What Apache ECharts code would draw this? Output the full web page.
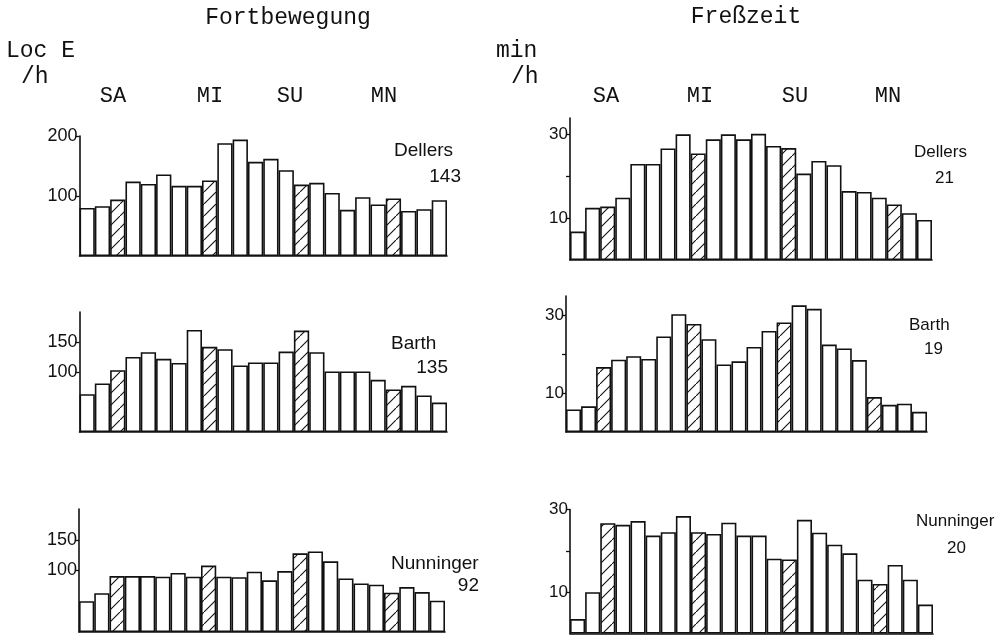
<!DOCTYPE html>
<html><head><meta charset="utf-8">
<script src="https://cdn.jsdelivr.net/npm/echarts@6/dist/echarts.min.js"></script>
<style>html,body{margin:0;padding:0;background:#fff}#c{width:1002px;height:637px}</style>
</head><body><div id="c"></div>
<script>
// ---- data ----
const hours = ['1','2','3','4','5','6','7','8','9','10','11','12','13','14','15','16','17','18','19','20','21','22','23','24'];
const timeLabels = ['SA','MI','SU','MN'];
const panelTitles = ['Fortbewegung','Freßzeit'];
const unitLoc = ['Loc E','/h'];
const unitFress = ['min','/h'];
const animals = ['Dellers','Barth','Nunninger'];
const locMeans = ['143','135','92'];
const fressMeans = ['21','19','20'];

const locDellers    = [80,83,94,124,120,136,117,117,126,188,194,157,162,143,119,122,105,77,98,86,96,75,78,93];
const locBarth      = [63,81,103,125,133,122,115,170,142,138,111,116,116,134,169,133,101,101,101,87,71,77,61,49];
const locNunninger  = [50,63,91,91,91,90,96,90,108,90,89,98,84,99,128,131,115,87,79,77,64,73,65,51];
const fressDellers  = [6.8,12.5,12.8,14.9,23.0,23.0,26.7,30.1,25.5,28.9,30.1,28.9,30.2,27.3,26.8,20.7,23.7,22.7,16.5,16.3,14.9,13.3,11.2,9.6];
const fressBarth    = [5.8,6.6,16.7,18.6,19.5,18.8,24.6,30.3,27.8,23.9,17.4,18.2,21.9,26.0,28.2,32.6,31.7,22.5,21.5,18.5,9.0,7.0,7.3,5.2];
const fressNunninger= [3.5,10.0,26.7,26.3,27.2,23.7,24.5,28.4,24.5,24.1,26.8,23.7,23.7,18.1,17.9,27.5,24.4,21.5,19.4,13.0,12.0,16.6,13.0,7.0];

// hatched hours (SA, MI, SU, MN) per panel
const hatchLocDellers = [2,8,14,20];
const hatchLocBarth = [2,8,14,20];
const hatchLocNunninger = [2,8,14,20];
const hatchFressDellers = [2,8,14,21];
const hatchFressBarth = [2,8,14,20];
const hatchFressNunninger = [2,8,14,20];

const locTicks12 = [100,200];
const locTicks = [100,150];
const fressTicks = [10,20,30];
const fressTickLabels = [10,30];

// ---- hatch pattern ----
function makeHatch(){
  const s=12, c=document.createElement('canvas'); c.width=s; c.height=s;
  const g=c.getContext('2d'); g.fillStyle='#fff'; g.fillRect(0,0,s,s);
  g.strokeStyle='#111'; g.lineWidth=1.1; g.beginPath();
  g.moveTo(-1,s+1); g.lineTo(s+1,-1);
  g.moveTo(-2,1); g.lineTo(1,-2);
  g.moveTo(s-1,s+2); g.lineTo(s+2,s-1);
  g.stroke(); return c;
}
const hatchFill = {image: makeHatch(), repeat:'repeat'};

const panels = [
  {vals:locDellers, hatch:hatchLocDellers, max:200, ticks:locTicks12, labels:locTicks12,
   grid:{left:79.5, top:136, width:367.5, height:120}},
  {vals:locBarth, hatch:hatchLocBarth, max:200, ticks:locTicks, labels:locTicks,
   grid:{left:79.5, top:312, width:367.5, height:120}},
  {vals:locNunninger, hatch:hatchLocNunninger, max:200, ticks:locTicks, labels:locTicks,
   grid:{left:79, top:509, width:366, height:123}},
  {vals:fressDellers, hatch:hatchFressDellers, max:34, ticks:fressTicks, labels:fressTickLabels,
   grid:{left:570, top:118, width:362, height:142}},
  {vals:fressBarth, hatch:hatchFressBarth, max:35, ticks:fressTicks, labels:fressTickLabels,
   grid:{left:566, top:296, width:361, height:136}},
  {vals:fressNunninger, hatch:hatchFressNunninger, max:30, ticks:fressTicks, labels:fressTickLabels,
   grid:{left:570, top:509.5, width:363, height:124}}
];

const INK='#111';
const sans='"Liberation Sans", Arial, sans-serif';
const mono='"Liberation Mono", "DejaVu Sans Mono", monospace';

const option = {
  backgroundColor:'#fff',
  animation:false,
  grid: panels.map(p=>Object.assign({outerBoundsMode:'none', containLabel:false}, p.grid)),
  xAxis: panels.map((p,i)=>({
    type:'category', gridIndex:i, data:hours, boundaryGap:true,
    axisLine:{show:true, lineStyle:{color:INK, width:1.6}},
    axisTick:{show:false}, axisLabel:{show:false}, splitLine:{show:false}
  })),
  yAxis: panels.map((p,i)=>({
    type:'value', gridIndex:i, min:0, max:p.max,
    axisLine:{show:true, lineStyle:{color:INK, width:1.6}},
    axisTick:{show:true, inside:false, length:4, lineStyle:{color:INK, width:1.3}, customValues:p.ticks},
    axisLabel:{show:true, margin:2, color:INK, fontFamily:sans, fontSize:i<3?18:17, customValues:p.labels},
    splitLine:{show:false}
  })),
  series: panels.map((p,i)=>({
    type:'bar', xAxisIndex:i, yAxisIndex:i, barWidth:'100%',
    itemStyle:{color:'#fff', borderColor:INK, borderWidth:1.6},
    data:p.vals.map((v,k)=> p.hatch.includes(k) ? {value:v, itemStyle:{color:hatchFill}} : v)
  })),
  graphic: []
};

function txt(x,y,text,font,size,align){
  option.graphic.push({type:'text', x:x, y:y, style:{text:text, fill:INK, font:size+'px '+font, textAlign:align||'left', textVerticalAlign:'middle'}});
}
// headers
txt(288,18,panelTitles[0],mono,23,'center');
txt(746,17,panelTitles[1],mono,23,'center');
txt(6,51,unitLoc[0],mono,23,'left');
txt(21,77,unitLoc[1],mono,23,'left');
txt(496,51,unitFress[0],mono,23,'left');
txt(511,77,unitFress[1],mono,23,'left');
const leftTL=[113,210,290,384], rightTL=[606,700,795,888];
timeLabels.forEach((t,k)=>{ txt(leftTL[k],96,t,mono,22,'center'); txt(rightTL[k],96,t,mono,22,'center'); });
// animal names and means
const leftName=[[394,151],[391,344],[391,564]], leftMean=[[461,177],[448,368],[479,586]];
const rightName=[[914,152],[909,325],[916,521]], rightMean=[[954,178],[943,349],[966,548]];
animals.forEach((a,k)=>{
  txt(leftName[k][0],leftName[k][1],a,sans,19,'left');
  txt(leftMean[k][0],leftMean[k][1],locMeans[k],sans,19,'right');
  txt(rightName[k][0],rightName[k][1],a,sans,17,'left');
  txt(rightMean[k][0],rightMean[k][1],fressMeans[k],sans,17,'right');
});

const chart = echarts.init(document.getElementById('c'), null, {renderer:'canvas'});
chart.setOption(option);
</script></body></html>
